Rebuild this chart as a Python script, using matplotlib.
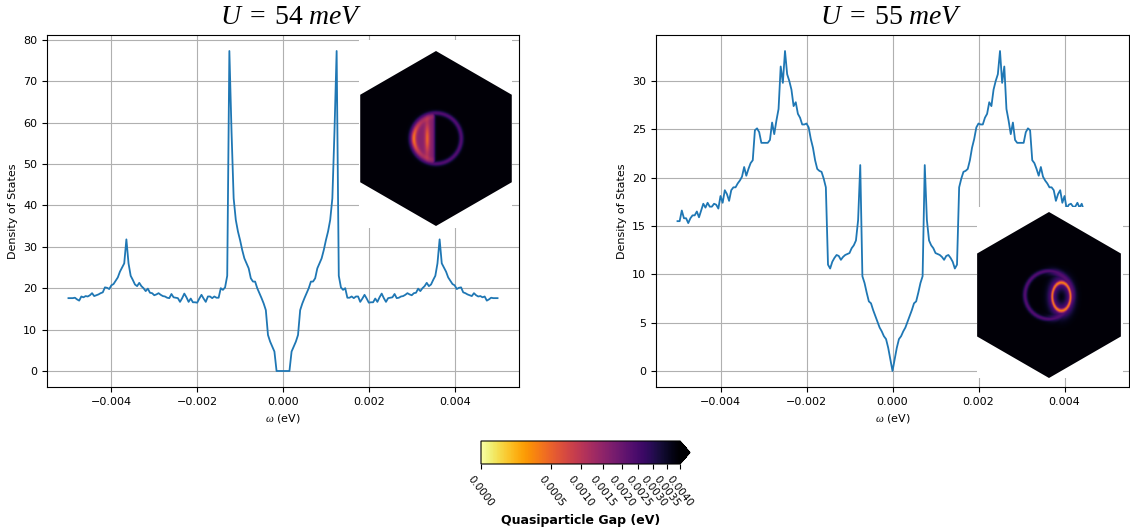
import numpy as np
import matplotlib
matplotlib.use('Agg')
import matplotlib.pyplot as plt
from matplotlib.colors import PowerNorm
from matplotlib.patches import Polygon

plt.rcParams['mathtext.fontset'] = 'custom'
plt.rcParams['mathtext.rm'] = 'Liberation Serif'
plt.rcParams['mathtext.it'] = 'Liberation Serif:italic'

# energy grid (eV)
omega = np.linspace(-0.005, 0.005, 201)

# DOS for omega <= 0; spectrum is particle-hole symmetric
dos54_neg = [17.6, 17.6, 17.6, 17.7, 17.3, 17.0, 18.0, 17.8, 18.1, 18.0,
             18.3, 18.8, 18.1, 18.3, 18.5, 18.8, 19.0, 20.2, 20.1, 19.8,
             20.7, 21.0, 21.8, 22.6, 24.0, 25.0, 26.0, 31.8, 26.0, 23.0,
             22.0, 20.9, 20.5, 21.3, 20.5, 20.0, 19.3, 19.9, 18.9, 18.8,
             18.3, 18.5, 18.8, 18.4, 18.1, 18.0, 17.7, 17.6, 18.6, 17.8,
             17.7, 17.6, 16.7, 17.6, 18.7, 17.8, 16.7, 17.5, 16.6, 16.6,
             16.5, 17.5, 18.4, 17.5, 16.7, 18.0, 18.0, 17.6, 18.0, 17.7,
             17.7, 20.0, 19.6, 20.2, 23.0, 77.3, 58.0, 41.7, 36.5, 33.7,
             31.6, 29.2, 27.2, 26.0, 24.8, 22.4, 21.6, 21.6, 20.0, 18.8,
             17.6, 16.3, 14.7, 8.7, 7.1, 5.9, 4.7, 0.0, 0.0, 0.0,
             0.0]

dos55_neg = [15.5, 15.5, 16.6, 15.8, 15.8, 15.3, 15.8, 16.1, 16.1, 16.5,
             15.9, 16.6, 17.3, 16.9, 17.4, 17.0, 17.0, 17.3, 17.2, 16.8,
             18.1, 17.4, 18.7, 18.3, 17.6, 18.7, 19.0, 19.0, 19.4, 19.7,
             20.1, 21.1, 20.2, 20.9, 21.5, 21.8, 24.9, 25.1, 24.7, 23.6,
             23.6, 23.6, 23.6, 23.9, 25.7, 24.5, 25.9, 27.1, 31.5, 29.8,
             33.1, 30.7, 30.0, 29.1, 27.4, 27.8, 26.6, 26.2, 25.5, 25.5,
             25.6, 25.2, 24.0, 23.1, 21.8, 20.9, 20.7, 20.6, 19.9, 19.0,
             11.0, 10.6, 11.3, 11.7, 12.0, 11.9, 11.5, 11.8, 12.0, 12.1,
             12.2, 12.7, 13.0, 13.5, 15.6, 21.3, 9.8, 9.1, 8.1, 7.2,
             7.0, 6.3, 5.7, 5.1, 4.5, 4.1, 3.6, 3.3, 2.4, 1.2,
             0.0]

dos54 = np.concatenate([dos54_neg, dos54_neg[-2::-1]])
dos55 = np.concatenate([dos55_neg, dos55_neg[-2::-1]])

titles = [r'$U\;=\;54\;meV$', r'$U\;=\;55\;meV$']
cbar_ticks = np.arange(0, 0.00401, 0.0005)


def gap_map(kind, n=300):
    # rough sketch of the gap over the hexagonal zone
    u, v = np.meshgrid(np.linspace(-1.1, 1.1, n), np.linspace(-1.1, 1.1, n))
    r = np.hypot(u, v)
    bg = 0.0039
    ring = np.exp(-((r - 0.29) / 0.028) ** 2)
    g = bg - 0.0016 * ring
    if kind == 0:
        inside = 1 / (1 + np.exp(-(0.30 - r) / 0.012))
        left = 1 / (1 + np.exp((u + 0.015) / 0.008))
        s = inside * left
        fall = np.exp(-(v / 0.2) ** 2)
        cres = (0.0016 - 0.0011 * np.exp(-((u + 0.10) / 0.03) ** 2) * fall
                - 0.0013 * np.exp(-((r - 0.255) / 0.03) ** 2) * fall)
        g = np.minimum(g, bg * (1 - s) + s * cres)
    else:
        r2 = np.hypot((u - 0.15) / 0.11, (v + 0.02) / 0.17)
        small = np.exp(-((r2 - 1.0) / 0.22) ** 2)
        glow = np.exp(-((r2 - 1.0) / 0.6) ** 2)
        g = np.minimum(g, bg - 0.0017 * glow)
        g = np.minimum(g, bg - 0.0036 * small)
        rside = np.exp(-((r - 0.28) / 0.05) ** 2) * (1 / (1 + np.exp(-u / 0.05)))
        g = np.minimum(g, bg - 0.0017 * rside)
    return g


def hexagon():
    ang = np.deg2rad(90 + 60 * np.arange(6))
    return np.column_stack([np.cos(ang), np.sin(ang)])


fig = plt.figure(figsize=(11.3, 5.31), dpi=100)
W, H = 1130, 531


def px_axes(x0, y0, x1, y1):
    return fig.add_axes([x0 / W, 1 - y1 / H, (x1 - x0) / W, (y1 - y0) / H])


ax1 = px_axes(47, 35, 519, 387)
ax2 = px_axes(656, 35, 1129, 387)

cmap = plt.get_cmap('inferno_r')
norm = PowerNorm(gamma=0.5, vmin=0, vmax=0.004)

for ax, dos, title, tx in [(ax1, dos54, titles[0], 291), (ax2, dos55, titles[1], 891)]:
    ax.plot(omega, dos, color='#1f77b4', lw=1.3)
    ax.grid(True, color='#b0b0b0', lw=0.8)
    ax.set_xlabel(r'$\omega$ (eV)', fontsize=8)
    ax.set_ylabel('Density of States', fontsize=8)
    ax.tick_params(labelsize=8)
    fig.text(tx / W, 1 - 16 / H, title, fontsize=20, ha='center', va='center')

ax1.set_yticks(np.arange(0, 81, 10))
ax2.set_yticks(np.arange(0, 31, 5))

# insets with the gap maps
insets = [(0, (359, 40, 512, 228), (436, 138.5), 87.5),
          (1, (977, 207, 1123, 378), (1049, 295), 83)]
for kind, box, (cx, cy), R in insets:
    ins = px_axes(*box)
    ins.set_facecolor('white')
    ins.set_xticks([])
    ins.set_yticks([])
    for sp in ins.spines.values():
        sp.set_visible(False)
    ins.set_xlim((box[0] - cx) / R, (box[2] - cx) / R)
    ins.set_ylim(-(box[3] - cy) / R, (cy - box[1]) / R)
    im = ins.imshow(gap_map(kind), cmap=cmap, norm=norm, origin='lower',
                    extent=[-1.1, 1.1, -1.1, 1.1], interpolation='bilinear',
                    aspect='auto')
    hexp = Polygon(hexagon(), closed=True, transform=ins.transData)
    im.set_clip_path(hexp)

cax = px_axes(481, 441, 690, 464)
cb = fig.colorbar(plt.cm.ScalarMappable(norm=norm, cmap=cmap), cax=cax,
                  orientation='horizontal', extend='max')
cb.set_ticks(cbar_ticks)
cb.set_ticklabels(['%.4f' % t for t in cbar_ticks])
cb.ax.tick_params(labelsize=7.5)
plt.setp(cb.ax.get_xticklabels(), rotation=-52)
cb.set_label('Quasiparticle Gap (eV)', fontsize=9, fontweight='bold')

fig.savefig('out.png', dpi=100)
